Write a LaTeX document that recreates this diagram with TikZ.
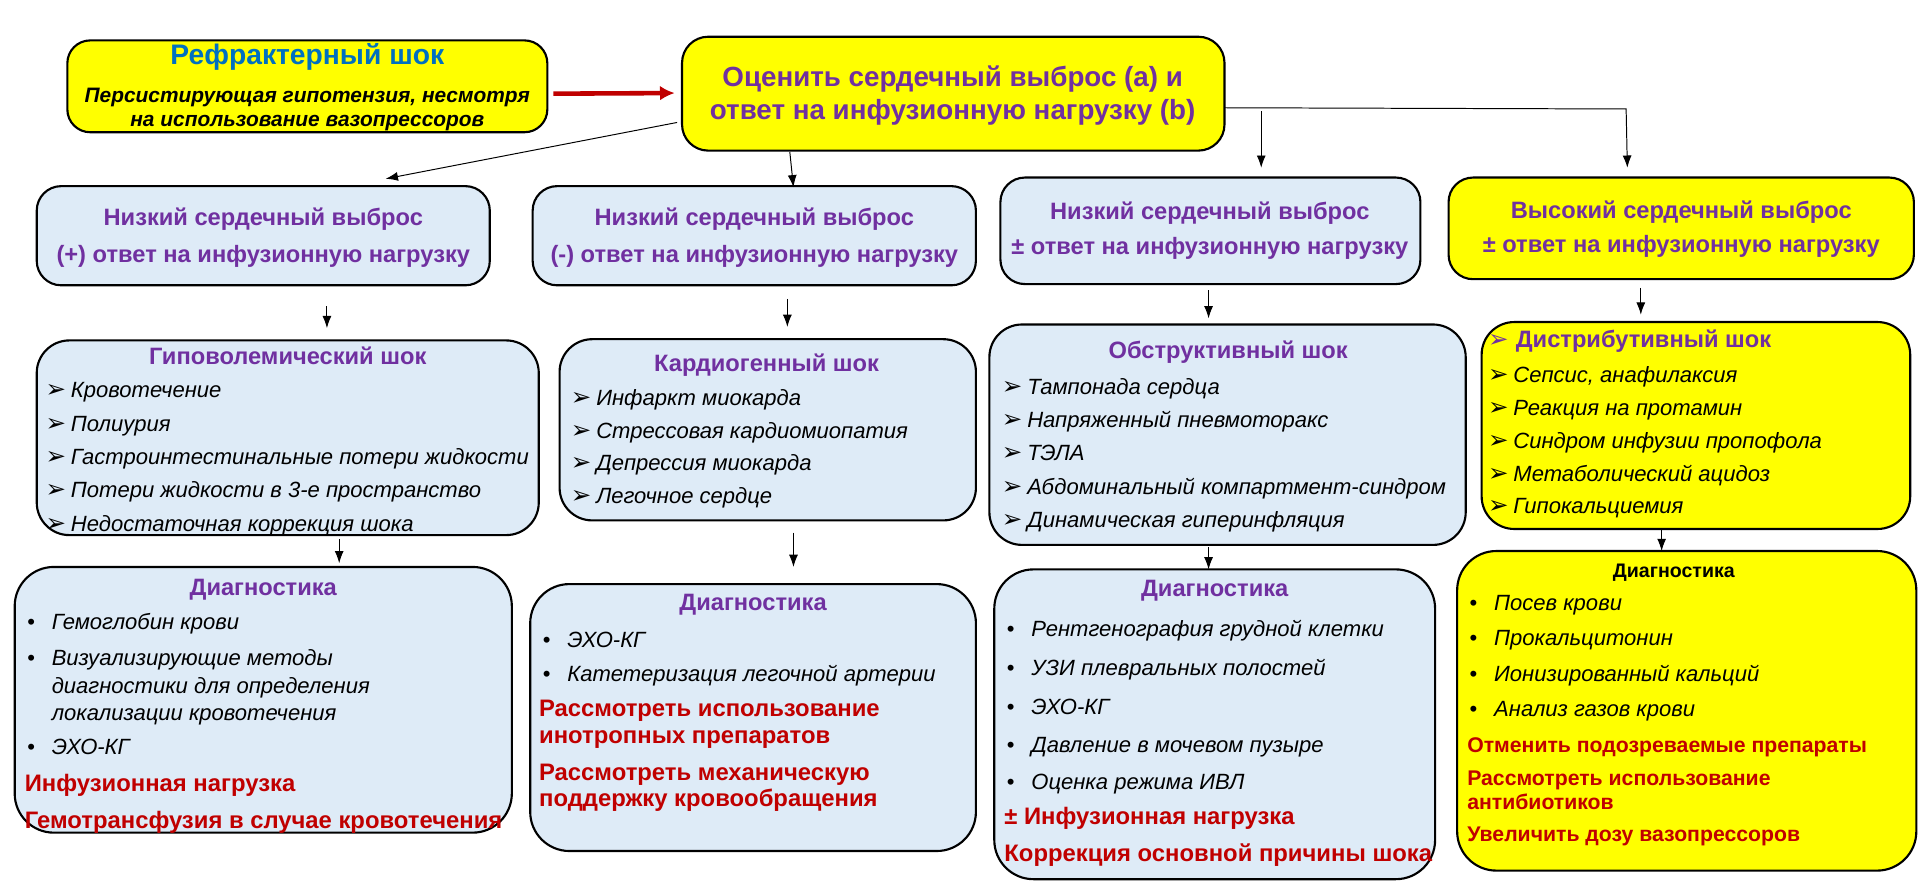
\documentclass[tikz,border=0pt]{standalone}
\usepackage{fontspec}
\setmainfont{Liberation Sans}
\newfontfamily\dvs{DejaVu Sans}
\usetikzlibrary{arrows.meta,calc}
\definecolor{pur}{HTML}{7030A0}
\definecolor{rd}{HTML}{C00000}
\definecolor{blu}{HTML}{0070C0}
\definecolor{pale}{HTML}{DEEBF7}
\definecolor{yel}{HTML}{FFFF00}
\newcommand\mkbox[7]{\node[boxs,fill=#7,rounded corners=#6pt,minimum width={0.75pt*(#4-#2)},minimum height={0.75pt*(#5-#3)}] (#1) at ({(#2+#4)/2},{(#3+#5)/2}) {};}
\newcommand\arb{{\dvs\upshape\fontsize{15}{15}\selectfont ➢}}
\newcommand\ai[4]{\node[itm] (#1) at (#2,#3) {\makebox[15.5pt][l]{\arb}#4};}
\newcommand\bi[4]{\node[itm] (#1) at (#2,#3) {\makebox[15pt][l]{\upshape•}#4};}
\begin{document}
\begin{tikzpicture}[x=0.75pt,y=-0.75pt,
  boxs/.style={draw=black,line width=1.3pt,inner sep=0pt,outer sep=0pt},
  txt/.style={inner sep=0pt,yshift=-2.2pt},
  head/.style={txt,anchor=mid,font=\fontsize{14.5}{17}\selectfont\bfseries,text=pur},
  lhead/.style={txt,anchor=mid west,font=\fontsize{14.5}{17}\selectfont\bfseries,text=pur},
  itm/.style={txt,anchor=mid west,font=\fontsize{13.5}{16}\selectfont\itshape},
  redl/.style={txt,anchor=mid west,font=\fontsize{14.6}{16}\selectfont\bfseries,text=rd},
  reds/.style={txt,anchor=mid west,font=\fontsize{13}{15}\selectfont\bfseries,text=rd},
  thin/.style={-{Latex[length=7.5pt,width=5.5pt]},line width=0.6pt},
  redarr/.style={-{Latex[length=9pt,width=9pt]},line width=2.8pt,draw=rd}]
\useasboundingbox (0,0) rectangle (1568,731);
\fill[white] (0,0) rectangle (1568,731);
% boxes
\mkbox{A}{55}{33}{447}{108}{14}{yel}
\mkbox{B}{557}{30}{1000}{123}{16}{yel}
\mkbox{C1}{30}{152}{400}{233}{15}{pale}
\mkbox{C2}{435}{152}{797}{233}{15}{pale}
\mkbox{C3}{817}{145}{1160}{232}{15}{pale}
\mkbox{C4}{1183}{145}{1563}{228}{15}{yel}
\mkbox{H}{30}{278}{440}{437}{20}{pale}
\mkbox{K}{457}{277}{797}{425}{20}{pale}
\mkbox{O}{808}{265}{1197}{445}{20}{pale}
\mkbox{D}{1210}{263}{1560}{432}{20}{yel}
\mkbox{G1}{12}{463}{418}{680}{24}{pale}
\mkbox{G2}{433}{477}{797}{695}{24}{pale}
\mkbox{G3}{812}{465}{1172}{718}{24}{pale}
\mkbox{G4}{1190}{450}{1565}{711}{24}{yel}
% top texts
\node[head,text=blu,font=\fontsize{17.3}{19}\selectfont\bfseries] (At) at (251,46) {Рефрактерный шок};
\node[head,text=black,font=\fontsize{12.8}{15}\selectfont\bfseries\itshape] (As1) at (251,77) {Персистирующая гипотензия, несмотря};
\node[head,text=black,font=\fontsize{12.8}{15}\selectfont\bfseries\itshape] (As2) at (251,97) {на использование вазопрессоров};
\node[head,font=\fontsize{17}{20}\selectfont\bfseries] (Bt1) at (778,64) {Оценить сердечный выброс (a) и};
\node[head,font=\fontsize{17}{20}\selectfont\bfseries] (Bt2) at (778,91) {ответ на инфузионную нагрузку (b)};
\node[head] (C1a) at (215,178) {Низкий сердечный выброс};
\node[head] (C1b) at (215,208) {(+) ответ на инфузионную нагрузку};
\node[head] (C2a) at (616,178) {Низкий сердечный выброс};
\node[head] (C2b) at (616,208) {(-) ответ на инфузионную нагрузку};
\node[head] (C3a) at (988,173) {Низкий сердечный выброс};
\node[head] (C3b) at (988,201) {± ответ на инфузионную нагрузку};
\node[head] (C4a) at (1373,172) {Высокий сердечный выброс};
\node[head] (C4b) at (1373,200) {± ответ на инфузионную нагрузку};
% hypovolemic
\node[head] (Ht) at (235,291) {Гиповолемический шок};
\ai{H1}{37}{318.5}{Кровотечение}
\ai{H2}{37}{345.7}{Полиурия}
\ai{H3}{37}{373}{Гастроинтестинальные потери жидкости}
\ai{H4}{37}{400.2}{Потери жидкости в 3-е пространство}
\ai{H5}{37}{427.4}{Недостаточная коррекция шока}
% cardiogenic
\node[head] (Kt) at (626,297) {Кардиогенный шок};
\ai{K1}{466}{325}{Инфаркт миокарда}
\ai{K2}{466}{351.5}{Стрессовая кардиомиопатия}
\ai{K3}{466}{378}{Депрессия миокарда}
\ai{K4}{466}{404.5}{Легочное сердце}
% obstructive
\node[head] (Ot) at (1003,286) {Обструктивный шок};
\ai{O1}{818}{316}{Тампонада сердца}
\ai{O2}{818}{343}{Напряженный пневмоторакс}
\ai{O3}{818}{370}{ТЭЛА}
\ai{O4}{818}{397}{Абдоминальный компартмент-синдром}
\ai{O5}{818}{424}{Динамическая гиперинфляция}
% distributive
\node[lhead] (Dt) at (1215,277) {\makebox[17pt][l]{\arb}Дистрибутивный шок};
\ai{D1}{1215}{306}{Сепсис, анафилаксия}
\ai{D2}{1215}{333}{Реакция на протамин}
\ai{D3}{1215}{360}{Синдром инфузии пропофола}
\ai{D4}{1215}{387}{Метаболический ацидоз}
\ai{D5}{1215}{413}{Гипокальциемия}
% diagnostics 1
\node[head] (G1t) at (215,480) {Диагностика};
\bi{G1a}{22}{508}{Гемоглобин крови}
\bi{G1b}{22}{537}{Визуализирующие методы}
\node[itm] (G1c) at (42,560) {диагностики для определения};
\node[itm] (G1d) at (42,582) {локализации кровотечения};
\bi{G1e}{22}{610}{ЭХО-КГ}
\node[redl] (G1r1) at (20,640) {Инфузионная нагрузка};
\node[redl] (G1r2) at (20,670) {Гемотрансфузия в случае кровотечения};
% diagnostics 2
\node[head] (G2t) at (615,492) {Диагностика};
\bi{G2a}{443}{522}{ЭХО-КГ}
\bi{G2b}{443}{550}{Катетеризация легочной артерии}
\node[redl] (G2r1) at (440,579) {Рассмотреть использование};
\node[redl] (G2r2) at (440,601) {инотропных препаратов};
\node[redl] (G2r3) at (440,631) {Рассмотреть механическую};
\node[redl] (G2r4) at (440,652) {поддержку кровообращения};
% diagnostics 3
\node[head] (G3t) at (992,481) {Диагностика};
\bi{G3a}{822}{513}{Рентгенография грудной клетки}
\bi{G3b}{822}{545}{УЗИ плевральных полостей}
\bi{G3c}{822}{577}{ЭХО-КГ}
\bi{G3d}{822}{608}{Давление в мочевом пузыре}
\bi{G3e}{822}{638}{Оценка режима ИВЛ}
\node[redl] (G3r1) at (820,667) {± Инфузионная нагрузка};
\node[redl] (G3r2) at (820,697) {Коррекция основной причины шока};
% diagnostics 4
\node[head,text=black,font=\fontsize{12}{14}\selectfont\bfseries] (G4t) at (1367,465) {Диагностика};
\bi{G4a}{1200}{492}{Посев крови}
\bi{G4b}{1200}{521}{Прокальцитонин}
\bi{G4c}{1200}{550}{Ионизированный кальций}
\bi{G4d}{1200}{579}{Анализ газов крови}
\node[reds] (G4r1) at (1198,608) {Отменить подозреваемые препараты};
\node[reds] (G4r2) at (1198,635) {Рассмотреть использование};
\node[reds] (G4r3) at (1198,655) {антибиотиков};
\node[reds] (G4r4) at (1198,681) {Увеличить дозу вазопрессоров};
% connectors
\draw[redarr] ($(A.east)+(5,6)$) -- ($(B.west)+(-6,-0.5)$);
\draw[thin] ($(B.south west)+(-4,-23)$) -- ($(C1.north west)+(285,-6)$);
\draw[thin] ($(B.south west)+(88,1)$) -- ($(C2.north west)+(213,1)$);
\draw[thin] ($(B.north east)+(0,58)$) -- ($(C4.north west)+(145,-56)$) -- ($(C4.north west)+(146,-8)$);
\draw[thin] ($(C3.north west)+(213,-54)$) -- ($(C3.north west)+(213,-8)$);
\draw[thin] ($(C1.south west)+(237,17)$) -- ($(H.north west)+(237,-10)$);
\draw[thin] ($(C2.south west)+(208,11)$) -- ($(K.north west)+(186,-10)$);
\draw[thin] ($(C3.south west)+(170,5)$) -- ($(O.north west)+(179,-5)$);
\draw[thin] ($(C4.south west)+(157,7)$) -- ($(D.north west)+(130,-6)$);
\draw[thin] ($(H.south west)+(247,3)$) -- ($(G1.north west)+(265,-3)$);
\draw[thin] ($(K.south west)+(191,10)$) -- ($(G2.north west)+(215,-14)$);
\draw[thin] ($(O.south west)+(179,2)$) -- ($(G3.north west)+(175,0)$);
\draw[thin] ($(D.south west)+(147,0)$) -- ($(G4.north west)+(167,0)$);
\end{tikzpicture}
\end{document}
